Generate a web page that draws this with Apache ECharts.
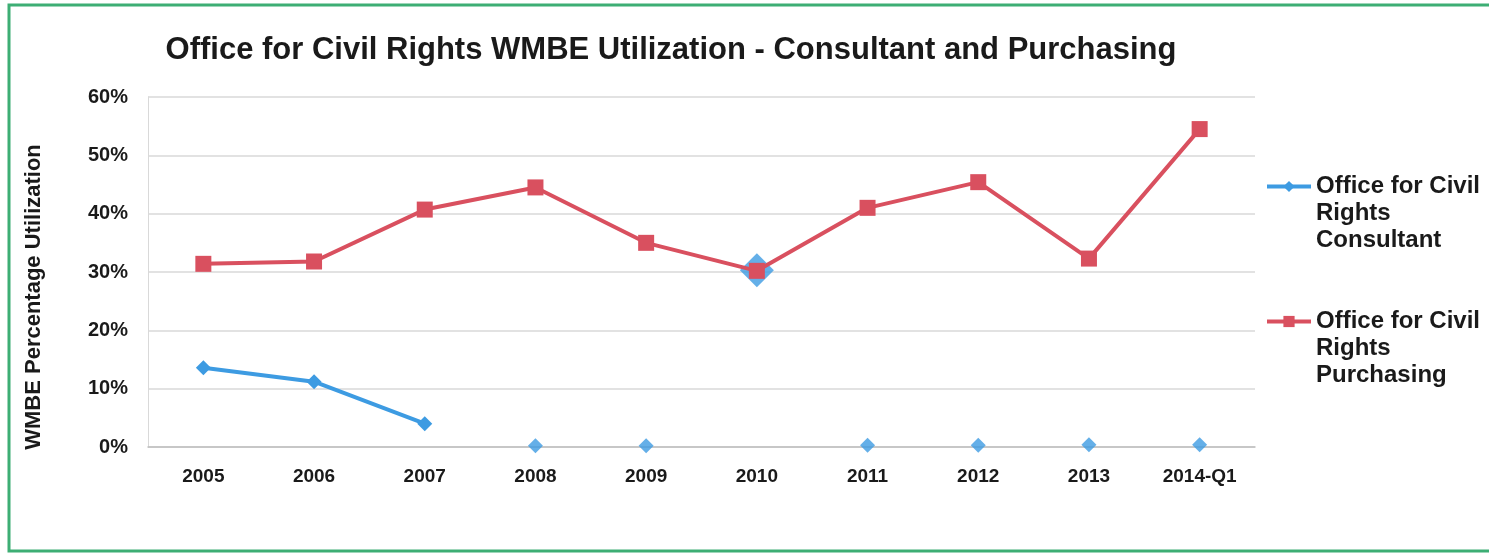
<!DOCTYPE html>
<html>
<head>
<meta charset="utf-8">
<script src="https://cdn.jsdelivr.net/npm/echarts@6/dist/echarts.min.js"></script>
<style>
  html, body { margin: 0; padding: 0; background: #fff; }
  #main { width: 1489px; height: 554px; }
</style>
</head>
<body>
<div id="main"></div>
<script>
var categories = ['2005', '2006', '2007', '2008', '2009', '2010', '2011', '2012', '2013', '2014-Q1'];
var yTicks = [0, 10, 20, 30, 40, 50, 60];
// consultant: line only joins 2005-2007, later years are loose markers
var consultantLine = [13.6, 11.2, 4.0, '-', '-', '-', '-', '-', '-', '-'];
var consultantDots = ['-', '-', '-', 0.2, 0.2, '-', 0.3, 0.3, 0.4, 0.4];
var consultantBig = ['-', '-', '-', '-', '-', 30.3, '-', '-', '-', '-'];
var purchasing = [31.4, 31.8, 40.7, 44.5, 35.0, 30.2, 41.0, 45.4, 32.3, 54.5];

var blue = '#3d9be2';
var red = '#d9505f';

var myChart = echarts.init(document.getElementById('main'));
myChart.setOption({
    animation: false,
    title: {
        text: 'Office for Civil Rights WMBE Utilization - Consultant and Purchasing',
        left: 666,
        textAlign: 'center',
        top: 30,
        textStyle: { fontFamily: 'Liberation Sans', fontWeight: 'bold', fontSize: 31, color: '#1a1a1a' }
    },
    graphic: [
        {
            type: 'rect',
            shape: { x: 9, y: 5, width: 1520, height: 546 },
            style: { fill: 'none', stroke: '#3dae74', lineWidth: 3 },
            silent: true
        },
        {
            type: 'text',
            x: 34,
            y: 297,
            rotation: Math.PI / 2,
            style: {
                text: 'WMBE Percentage Utilization',
                fontFamily: 'Liberation Sans',
                fontWeight: 'bold',
                fontSize: 22,
                fill: '#1a1a1a',
                align: 'center',
                verticalAlign: 'middle'
            }
        }
    ],
    legend: {
        orient: 'vertical',
        left: 1260,
        top: 114,
        itemWidth: 44,
        itemHeight: 14,
        itemGap: 0,
        data: ['Office for Civil Rights Consultant', 'Office for Civil Rights Purchasing'],
        // two blank lines on top so the first text line sits level with the icon
        formatter: function (name) {
            return '\n\n' + name.replace('Office for Civil Rights ', 'Office for Civil\nRights\n');
        },
        lineStyle: { width: 4 },
        textStyle: {
            fontFamily: 'Liberation Sans',
            fontWeight: 'bold',
            fontSize: 24,
            lineHeight: 27,
            color: '#1a1a1a'
        }
    },
    grid: { left: 148, right: 234, top: 97, bottom: 107 },
    xAxis: {
        type: 'category',
        data: categories,
        boundaryGap: true,
        axisLine: { lineStyle: { color: '#bfbfbf', width: 1.5 } },
        axisTick: { show: false },
        axisLabel: {
            margin: 20,
            fontFamily: 'Liberation Sans',
            fontWeight: 'bold',
            fontSize: 19,
            color: '#1a1a1a'
        }
    },
    yAxis: {
        type: 'value',
        min: yTicks[0],
        max: yTicks[yTicks.length - 1],
        interval: 10,
        axisLine: { show: true, lineStyle: { color: '#d9d9d9' } },
        axisTick: { show: false },
        splitLine: { lineStyle: { color: '#d9d9d9', width: 1.5 } },
        axisLabel: {
            margin: 20,
            formatter: '{value}%',
            fontFamily: 'Liberation Sans',
            fontWeight: 'bold',
            fontSize: 20,
            color: '#1a1a1a'
        }
    },
    series: [
        {
            name: 'Office for Civil Rights Consultant',
            type: 'line',
            data: consultantLine,
            symbol: 'diamond',
            symbolSize: 15,
            itemStyle: { color: blue },
            lineStyle: { color: blue, width: 4 },
            z: 3
        },
        {
            name: 'Office for Civil Rights Consultant',
            type: 'scatter',
            data: consultantDots,
            symbol: 'diamond',
            symbolSize: 15,
            itemStyle: { color: blue },
            z: 3
        },
        {
            name: 'Office for Civil Rights Consultant',
            type: 'scatter',
            data: consultantBig,
            symbol: 'diamond',
            symbolSize: 34,
            itemStyle: { color: blue },
            z: 2
        },
        {
            name: 'Office for Civil Rights Purchasing',
            type: 'line',
            data: purchasing,
            symbol: 'rect',
            symbolSize: 16,
            itemStyle: { color: red },
            lineStyle: { color: red, width: 4 },
            z: 4
        }
    ]
});
</script>
</body>
</html>
